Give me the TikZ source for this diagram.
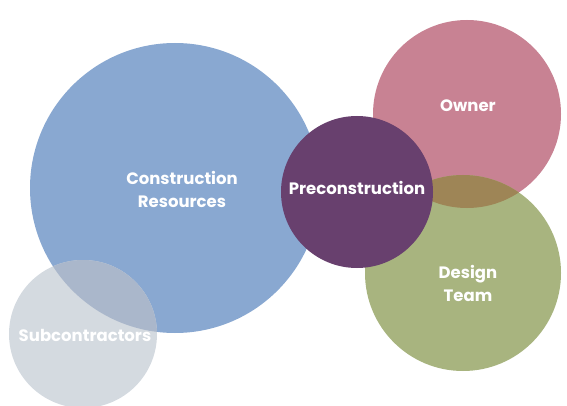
\documentclass[tikz,border=0pt]{standalone}
\usepackage{fontspec}
\setmainfont{Poppins}
\usetikzlibrary{positioning}

\definecolor{resBlue}{RGB}{137,168,209}
\definecolor{subGray}{RGB}{212,218,224}
\definecolor{subOverlap}{RGB}{170,183,203}
\definecolor{preconPurple}{RGB}{104,64,110}
\definecolor{ownerPink}{RGB}{200,130,147}
\definecolor{designGreen}{RGB}{168,180,127}
\definecolor{ownDesOverlap}{RGB}{158,133,86}

\begin{document}
\begin{tikzpicture}[
        x=1pt, y=-1pt,
        blob/.style={circle, draw=none, inner sep=0pt},
        lbl/.style={text=white, align=center, font=\bfseries\fontsize{16.5}{23}\selectfont}
    ]
    \useasboundingbox (0,0) rectangle (567,406);

    % Circles
    \node (res) [blob, fill=resBlue, minimum size=290pt] at (175,188) {};
    \node (sub) [blob, fill=subGray, minimum size=148pt] at (83,334) {};
    \begin{scope}
        \clip (res.center) circle[radius=145];
        \fill[subOverlap] (sub.center) circle[radius=74];
    \end{scope}

    \node (owner) [blob, fill=ownerPink, minimum size=188pt] at (467,114) {};
    \node (design) [blob, fill=designGreen, minimum size=196pt] at (463,273) {};
    \begin{scope}
        \clip (owner.center) circle[radius=94];
        \fill[ownDesOverlap] (design.center) circle[radius=98];
    \end{scope}

    \node (precon) [blob, fill=preconPurple, minimum size=152pt] at (357,192) {};

    % Labels
    \node (resT) [lbl] at (182,189) {Construction\\Resources};
    \node (subT) [lbl] at (85,335) {Subcontractors};
    \node (preconT) [lbl] at (357,188) {Preconstruction};
    \node (ownerT) [lbl] at (468,106) {Owner};
    \node (designT) [lbl] at (468,283) {Design\\Team};
\end{tikzpicture}
\end{document}
